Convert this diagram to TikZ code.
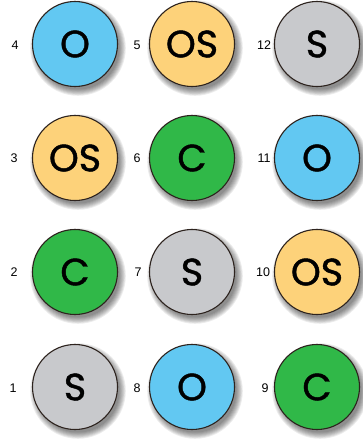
\documentclass[tikz,border=0pt]{standalone}
\usepackage{fontspec}
\setmainfont{Liberation Sans}
\newfontfamily\letterfont[FakeBold=1.2]{Poppins}
\definecolor{cblue}{RGB}{98,200,242}
\definecolor{cyellow}{RGB}{253,210,122}
\definecolor{cgray}{RGB}{200,201,204}
\definecolor{cgreen}{RGB}{48,184,72}
\definecolor{cedge}{RGB}{45,35,30}
\tikzset{
  disc/.style={circle, draw=cedge, line width=1.1pt, minimum size=85pt, inner sep=0pt,
    font=\letterfont\fontsize{38}{38}\selectfont},
  num/.style={font=\fontsize{12.5}{12.5}\selectfont, inner sep=0pt}
}
\newcommand{\shadowdisc}[2]{%
  \foreach \k in {0,...,7}{
    \fill[black, opacity=0.07] (#1+3,#2+4) circle ({41.5+\k*0.9});
  }%
}
\begin{document}
\begin{tikzpicture}[x=1pt,y=-1pt]
\useasboundingbox (0,0) rectangle (363,442);
% shadows
\foreach \cx/\cy in {75/44,192/44,317/44,75/158,192/158,317/158,75/272,192/272,317/272,75/387,192/387,317/387}{
  \shadowdisc{\cx}{\cy}
}
% column 1
\node[disc, fill=cblue]   (c4)  at (75,44)  {O};
\node[disc, fill=cyellow] (c3)  at (75,158) {OS};
\node[disc, fill=cgreen]  (c2)  at (75,272) {C};
\node[disc, fill=cgray]   (c1)  at (75,387) {S};
% column 2
\node[disc, fill=cyellow] (c5)  at (192,44)  {OS};
\node[disc, fill=cgreen]  (c6)  at (192,158) {C};
\node[disc, fill=cgray]   (c7)  at (192,272) {S};
\node[disc, fill=cblue]   (c8)  at (192,387) {O};
% column 3
\node[disc, fill=cgray]   (c12) at (317,44)  {S};
\node[disc, fill=cblue]   (c11) at (317,158) {O};
\node[disc, fill=cyellow] (c10) at (317,272) {OS};
\node[disc, fill=cgreen]  (c9)  at (317,387) {C};
% labels
\node[num] (n4)  at (15,45)  {4};
\node[num] (n3)  at (14,158) {3};
\node[num] (n2)  at (14,272) {2};
\node[num] (n1)  at (13,388) {1};
\node[num] (n5)  at (137,45)  {5};
\node[num] (n6)  at (137,158) {6};
\node[num] (n7)  at (138,272) {7};
\node[num] (n8)  at (137,388) {8};
\node[num] (n12) at (264,45)  {12};
\node[num] (n11) at (264,158) {11};
\node[num] (n10) at (263,272) {10};
\node[num] (n9)  at (265,388) {9};
\end{tikzpicture}
\end{document}
